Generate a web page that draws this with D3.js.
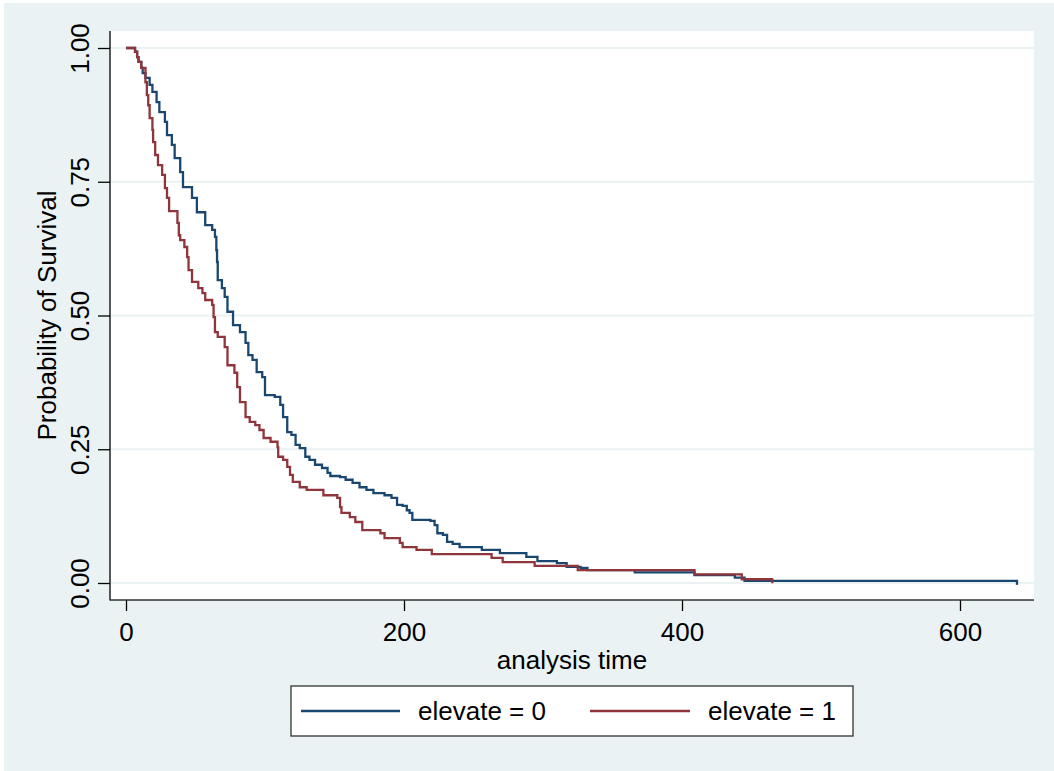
<!DOCTYPE html>
<html><head><meta charset="utf-8">
<script src="https://cdn.jsdelivr.net/npm/d3@7"></script>
<style>html,body{margin:0;padding:0;background:#fff;}svg{display:block;}</style>
</head><body>
<script>
// ---- data ----
const timesElev0 = [0,6.5,8,9,11,12,14,17,19,22,24,28,29.5,33,35,39,41,47.5,51,57,62,64,65,65.5,66,69,71,73,77,82,86,88,91,94,98,100,107,111,113,116,119,122,125,129,132,136,141,145,147,154,158,163,168,173,178,186,191,195,199,202,204,206,219,222,224,228,231,235,240,256,269,288,296,310,317,327,332,366,409,438,445,641];
const survElev0  = [1.000,0.993,0.983,0.974,0.963,0.953,0.944,0.931,0.918,0.899,0.880,0.862,0.837,0.819,0.794,0.768,0.740,0.720,0.693,0.669,0.660,0.647,0.622,0.600,0.566,0.551,0.535,0.507,0.482,0.469,0.449,0.426,0.417,0.394,0.385,0.351,0.348,0.333,0.310,0.282,0.277,0.258,0.252,0.236,0.230,0.221,0.215,0.206,0.200,0.198,0.193,0.187,0.179,0.174,0.168,0.164,0.159,0.146,0.144,0.136,0.131,0.118,0.116,0.108,0.093,0.090,0.077,0.073,0.067,0.062,0.056,0.049,0.041,0.037,0.030,0.028,0.024,0.020,0.015,0.010,0.004,0.004];
const timesElev1 = [0,6.5,8,9,11,14,15,16,17,19,19.5,21,23,26,28,29.5,31,37,38,39,42,44,45,47.5,52,55,57,62,63,64,66,71,73,78,80,82,86,89,93,96,99,104,109,109.5,113,116,118,120,125,130,142,152,154,155,161,165,170,183,186,197,199,209,220,263,271,294,325,409,443,465];
const survElev1  = [1.000,0.993,0.983,0.974,0.963,0.936,0.912,0.893,0.869,0.847,0.824,0.800,0.781,0.763,0.738,0.720,0.695,0.673,0.650,0.641,0.628,0.609,0.585,0.563,0.551,0.542,0.529,0.520,0.497,0.469,0.460,0.441,0.407,0.393,0.366,0.338,0.310,0.301,0.295,0.286,0.271,0.264,0.254,0.236,0.230,0.217,0.202,0.189,0.179,0.174,0.164,0.159,0.142,0.131,0.123,0.114,0.099,0.093,0.084,0.075,0.067,0.062,0.054,0.047,0.039,0.032,0.024,0.016,0.007,0.007];
const xTicks = [0,200,400,600];
const yTicks = [0,0.25,0.5,0.75,1];
const seriesLabels = ["elevate = 0","elevate = 1"];
const seriesColors = ["#1a476f","#90353b"];
const xTitle = "analysis time";
const yTitle = "Probability of Survival";

// ---- drawing ----
const W = 1054, H = 771;
const plot = {left:110, right:1034, top:31, bottom:600};
const FONT = "'Liberation Sans', Arial, Helvetica, sans-serif";
const FS = 26;

const svg = d3.select("body").append("svg").attr("width",W).attr("height",H);
svg.append("rect").attr("x",0).attr("y",0).attr("width",W).attr("height",H).attr("fill","#ffffff");
svg.append("rect").attr("x",4).attr("y",3).attr("width",W-4).attr("height",H-3).attr("fill","#eaf2f3");
svg.append("rect").attr("x",plot.left).attr("y",plot.top).attr("width",plot.right-plot.left).attr("height",plot.bottom-plot.top).attr("fill","#ffffff");

const x = d3.scaleLinear().domain([0,600]).range([126,960]);
const y = d3.scaleLinear().domain([0,1]).range([583,48]);

// gridlines
svg.append("g").selectAll("line").data(yTicks).join("line")
  .attr("x1",plot.left).attr("x2",plot.right)
  .attr("y1",d=>y(d)).attr("y2",d=>y(d))
  .attr("stroke","#eaf2f3").attr("stroke-width",2);

// axes
const yAxis = d3.axisLeft(y).tickValues(yTicks).tickSize(12).tickFormat(d3.format(".2f"));
const gy = svg.append("g").attr("transform",`translate(${plot.left},0)`).call(yAxis);
gy.select(".domain").remove();
gy.selectAll(".tick line").attr("stroke","#000").attr("stroke-width",1.3);
gy.selectAll(".tick text").remove();
gy.selectAll(".tick").append("text")
  .attr("transform","translate(-21,0) rotate(-90)")
  .attr("text-anchor","middle").attr("fill","#000")
  .style("font-family",FONT).style("font-size",FS+"px")
  .text(d=>d3.format(".2f")(d));
svg.append("line").attr("x1",plot.left).attr("x2",plot.left).attr("y1",plot.top).attr("y2",plot.bottom+0.5)
  .attr("stroke","#000").attr("stroke-width",1.3);

const xAxis = d3.axisBottom(x).tickValues(xTicks).tickSize(11).tickFormat(d3.format("d"));
const gx = svg.append("g").attr("transform",`translate(0,${plot.bottom})`).call(xAxis);
gx.select(".domain").remove();
gx.selectAll(".tick line").attr("stroke","#000").attr("stroke-width",1.3);
gx.selectAll(".tick text").attr("y",41).attr("dy",0).attr("fill","#000")
  .style("font-family",FONT).style("font-size",FS+"px");
svg.append("line").attr("x1",plot.left).attr("x2",plot.right).attr("y1",plot.bottom).attr("y2",plot.bottom)
  .attr("stroke","#333").attr("stroke-width",1.5);

// titles
svg.append("text").attr("x",(plot.left+plot.right)/2).attr("y",669).attr("text-anchor","middle")
  .style("font-family",FONT).style("font-size",FS+"px").text(xTitle);
svg.append("text").attr("transform",`translate(56,${(plot.top+plot.bottom)/2}) rotate(-90)`).attr("text-anchor","middle")
  .style("font-family",FONT).style("font-size",FS+"px").text(yTitle);

// curves
const line = d3.line().x(d=>x(d[0])).y(d=>y(d[1])).curve(d3.curveStepAfter);
const series = [
  d3.zip(timesElev0, survElev0),
  d3.zip(timesElev1, survElev1)
];
series.forEach((s,i)=>{
  svg.append("path").datum(s).attr("d",line).attr("fill","none")
    .attr("stroke",seriesColors[i]).attr("stroke-width",2.3).attr("stroke-linejoin","miter");
  const last = s[s.length-1];
  svg.append("line").attr("x1",x(last[0])).attr("x2",x(last[0]))
    .attr("y1",y(last[1])-1).attr("y2",y(last[1])+4)
    .attr("stroke",seriesColors[i]).attr("stroke-width",2.3);
});
// draw red over blue where they overlap (red drawn second already)

// legend
const lg = svg.append("g");
lg.append("rect").attr("x",291).attr("y",686).attr("width",562).attr("height",50)
  .attr("fill","#fff").attr("stroke","#333").attr("stroke-width",1.3);
const legendItems = [{x1:301,x2:400,tx:418},{x1:590,x2:690,tx:708}];
legendItems.forEach((it,i)=>{
  lg.append("line").attr("x1",it.x1).attr("x2",it.x2).attr("y1",711).attr("y2",711)
    .attr("stroke",seriesColors[i]).attr("stroke-width",2.5);
  lg.append("text").attr("x",it.tx).attr("y",720).style("font-family",FONT).style("font-size",FS+"px")
    .text(seriesLabels[i]);
});
</script>
</body></html>
